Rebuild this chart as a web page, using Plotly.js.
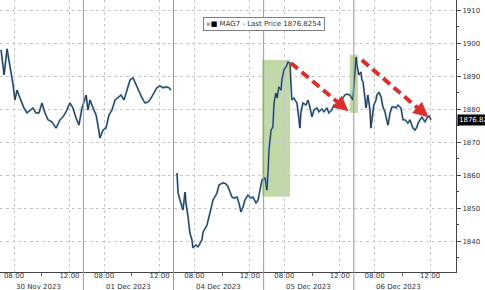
<!DOCTYPE html>
<html>
<head>
<meta charset="utf-8">
<script src="https://cdn.plot.ly/plotly-3.0.1.min.js"></script>
<style>html,body{margin:0;padding:0;background:#fff;}#chart{width:485px;height:290px;}</style>
</head>
<body>
<div id="chart"></div>
<script>
// ---- Data ----
const dayKeys   = ['2023-11-30','2023-12-01','2023-12-04','2023-12-05','2023-12-06'];
const dayLabels = ['30 Nov 2023','01 Dec 2023','04 Dec 2023','05 Dec 2023','06 Dec 2023'];
const tickTimes = ['08:00','12:00'];
const minorTickTimes = ['10:00'];
const seriesName = 'MAG7';
const lastPrice = 1876.8254;

const t30Nov = ['07:04','07:17','07:30','07:43','07:56','08:04','08:13','08:26','08:43','08:56','09:09','09:22','09:35','09:48','10:01','10:14','10:27','10:44','11:02','11:19','11:32','11:45','12:02','12:15','12:28','12:41','12:54'];
const p30Nov = [1898.0,1890.4,1898.3,1893.4,1887.4,1882.8,1885.8,1883.4,1880.4,1878.9,1879.8,1880.4,1878.9,1878.9,1881.9,1878.9,1876.8,1876.2,1874.3,1876.8,1877.7,1879.2,1881.9,1880.4,1877.4,1875.2,1880.4];

const t01Dec = ['06:42','06:50','06:59','07:12','07:25','07:33','07:42','07:55','08:08','08:21','08:34','08:47','09:00','09:13','09:26','09:39','09:52','10:05','10:18','10:31','10:44','10:57','11:10','11:23','11:36','11:48','12:01','12:15','12:28','12:41','12:49'];
const p01Dec = [1884.3,1879.8,1882.8,1880.4,1878.3,1875.2,1871.3,1873.7,1874.3,1878.3,1879.8,1882.8,1883.7,1884.3,1882.8,1885.8,1888.9,1889.5,1887.4,1885.2,1883.4,1881.9,1882.2,1883.4,1885.2,1886.5,1887.1,1886.5,1886.8,1886.5,1885.8];

const t04Dec = ['06:45','06:50','06:58','07:11','07:20','07:24','07:33','07:41','07:50','07:54','08:07','08:16','08:33','08:38','08:55','09:08','09:21','09:38','09:47','10:04','10:17','10:26','10:43','10:52','11:05','11:13','11:22','11:31','11:39','11:52','12:05','12:14','12:27','12:36','12:44','12:53'];
const p04Dec = [1860.7,1854.6,1852.5,1849.5,1854.9,1851.6,1847.4,1842.5,1840.4,1838.0,1838.9,1838.3,1840.4,1842.8,1844.9,1848.6,1852.5,1854.6,1857.1,1857.7,1857.4,1856.5,1853.4,1853.1,1853.4,1851.6,1848.9,1850.4,1852.5,1854.0,1853.1,1853.4,1851.6,1852.5,1855.5,1858.6];

const t05Dec = ['06:36','06:44','06:49','06:53','07:02','07:10','07:15','07:23','07:28','07:36','07:45','07:49','07:58','08:11','08:15','08:24','08:28','08:32','08:41','08:54','08:58','09:07','09:11','09:20','09:33','09:42','09:50','09:59','10:08','10:21','10:29','10:42','10:51','11:04','11:12','11:25','11:34','11:47','11:51','12:04','12:13','12:21','12:30','12:43','12:56'];
const p05Dec = [1859.2,1855.5,1860.7,1867.6,1873.7,1874.6,1881.9,1884.9,1883.4,1886.8,1885.8,1888.9,1891.9,1893.4,1894.3,1894.0,1888.0,1882.8,1883.4,1881.9,1879.8,1874.3,1878.9,1881.9,1881.3,1882.8,1880.7,1877.7,1879.8,1880.4,1879.2,1880.1,1879.2,1880.4,1878.9,1879.8,1881.3,1880.4,1882.2,1881.3,1883.4,1884.3,1884.6,1884.3,1882.8];

const t06Dec = ['06:40','06:44','06:52','07:01','07:05','07:10','07:18','07:23','07:27','07:31','07:40','07:44','07:53','07:57','08:06','08:10','08:19','08:28','08:36','08:45','08:54','08:58','09:07','09:15','09:24','09:33','09:41','09:54','10:03','10:11','10:20','10:24','10:33','10:42','10:46','10:55','11:03','11:08','11:16','11:25','11:29','11:38','11:47','11:55','12:04'];
const p06Dec = [1895.8,1893.4,1890.4,1891.3,1888.9,1888.3,1884.3,1880.4,1882.2,1884.3,1879.8,1874.3,1879.2,1881.3,1882.8,1884.3,1885.2,1883.7,1880.7,1879.2,1876.2,1875.2,1878.9,1880.7,1880.7,1880.4,1881.3,1880.4,1876.8,1876.8,1876.2,1875.8,1876.8,1875.2,1874.3,1873.7,1874.6,1875.8,1876.8,1877.7,1877.1,1876.2,1877.4,1878.0,1876.8254];

const dayTimes  = [t30Nov, t01Dec, t04Dec, t05Dec, t06Dec];
const dayPrices = [p30Nov, p01Dec, p04Dec, p05Dec, p06Dec];
const gapAfterDay = ['2023-12-01'];

// highlighted boxes: [start datetime, end datetime, low, high]
const boxStart = ['2023-12-04 12:53','2023-12-05 12:43'];
const boxEnd   = ['2023-12-05 08:24','2023-12-06 06:48'];
const boxLow   = [1853.5, 1878.9];
const boxHigh  = [1894.9, 1896.5];

// red dashed arrows: from -> to
const arrowFromT = ['2023-12-05 08:28','2023-12-06 07:05'];
const arrowFromP = [1894.0, 1894.9];
const arrowToT   = ['2023-12-05 12:37','2023-12-06 11:53'];
const arrowToP   = [1879.4, 1877.6];

// ---- Session axis: hours of trading since 30 Nov open (06:30-13:00) ----
const OPEN = 6.5, LEN = 6.5;
function hm(s){const [h,m]=s.split(':').map(Number);return h+m/60;}
function sx(dayIdx, time){return dayIdx*LEN + (hm(time)-OPEN);}
function dx(dt){const [d,t]=dt.split(' ');return sx(dayKeys.indexOf(d), t);}

const xs=[], ys=[];
dayKeys.forEach((d,i)=>{
  dayTimes[i].forEach((t,j)=>{xs.push(sx(i,t)); ys.push(dayPrices[i][j]);});
  if(gapAfterDay.includes(d)){xs.push(null); ys.push(null);}
});

const tickvals=[], ticktext=[], minorvals=[];
dayKeys.forEach((d,i)=>{
  tickTimes.forEach(t=>{tickvals.push(sx(i,t)); ticktext.push(t);});
  minorTickTimes.forEach(t=>minorvals.push(sx(i,t)));
});

const xRange=[0.49, 33.37];
const shapes=[];
// day separators
for(let i=1;i<dayKeys.length;i++){
  shapes.push({type:'line',xref:'x',yref:'paper',x0:i*LEN,x1:i*LEN,y0:-0.075,y1:1,line:{color:'#9a9a9a',width:1},layer:'above'});
}
// green boxes
boxStart.forEach((s,i)=>{
  shapes.push({type:'rect',xref:'x',yref:'y',x0:dx(s),x1:dx(boxEnd[i]),y0:boxLow[i],y1:boxHigh[i],fillcolor:'rgba(125,175,75,0.48)',line:{width:0},layer:'below'});
});
const annotations=[];
const RED='#d9302c';
arrowFromT.forEach((s,i)=>{
  const x0=dx(s), y0=arrowFromP[i], x1=dx(arrowToT[i]), y1=arrowToP[i];
  const f=0.88;
  const xm=x0+(x1-x0)*f, ym=y0+(y1-y0)*f;
  shapes.push({type:'line',xref:'x',yref:'y',x0:x0,y0:y0,x1:xm,y1:ym,line:{color:RED,width:4,dash:'9px,5px'},layer:'above'});
  annotations.push({xref:'x',yref:'y',axref:'x',ayref:'y',x:x1,y:y1,ax:x0+(x1-x0)*0.84,ay:y0+(y1-y0)*0.84,text:'',showarrow:true,arrowhead:2,arrowsize:0.75,arrowwidth:4,arrowcolor:RED,standoff:0,startstandoff:0});
});
// date labels
dayLabels.forEach((lab,i)=>{
  const x=i*LEN+LEN/2;
  if(x<xRange[0]||x>xRange[1]) return;
  annotations.push({xref:'x',yref:'paper',x:x,y:0,yanchor:'top',yshift:-9.5,text:lab,showarrow:false,borderpad:0,font:{family:'DejaVu Sans',size:7,color:'#333'}});
});
// legend box
annotations.push({xref:'paper',yref:'paper',x:0.58,y:0.912,xanchor:'center',yanchor:'middle',
  text:'<span style="color:#b0b0b0">▪</span><span style="color:#000">■</span> '+seriesName+' - Last Price '+lastPrice.toFixed(4),
  showarrow:false,bgcolor:'#fff',bordercolor:'#808080',borderwidth:1,borderpad:2,font:{family:'DejaVu Sans',size:7,color:'#333'}});
// last price tag
annotations.push({xref:'paper',yref:'y',x:1,y:lastPrice,xanchor:'left',yanchor:'middle',xshift:1,text:lastPrice.toFixed(4),showarrow:false,bgcolor:'#000',borderpad:1,font:{family:'DejaVu Sans',size:7,color:'#fff'}});

const traces=[
  {type:'scatter',mode:'lines',x:xs,y:ys,line:{color:'#6d9bc8',width:2},hoverinfo:'skip',connectgaps:false},
  {type:'scatter',mode:'lines',x:xs,y:ys,line:{color:'#1e2a36',width:0.9},connectgaps:false}
];

const layout={
  width:485,height:290,margin:{l:0,r:29,t:0,b:18},
  paper_bgcolor:'#fff',plot_bgcolor:'#fff',showlegend:false,
  font:{family:'DejaVu Sans',size:7,color:'#333'},
  xaxis:{type:'linear',range:xRange,tickmode:'array',tickvals:tickvals,ticktext:ticktext,ticks:'',ticklabelstandoff:-3,
    showgrid:true,gridcolor:'#c8c8c8',griddash:'dot',gridwidth:1,zeroline:false,
    showline:true,linecolor:'#444',linewidth:1,tickfont:{size:7,color:'#333'},
    minor:{tickmode:'array',tickvals:minorvals,ticks:'outside',ticklen:3,tickcolor:'#666',showgrid:false}},
  yaxis:{side:'right',range:[1830.7,1913.1],dtick:10,tick0:1840,ticks:'outside',ticklen:4,tickcolor:'#444',
    showgrid:true,gridcolor:'#c8c8c8',griddash:'dot',gridwidth:1,zeroline:false,
    showline:true,linecolor:'#444',linewidth:1,tickfont:{size:7,color:'#333'},
    minor:{dtick:5,tick0:1835,ticks:'outside',ticklen:2,tickcolor:'#444',showgrid:false}},
  shapes:shapes,annotations:annotations
};
Plotly.newPlot('chart',traces,layout,{staticPlot:true,displayModeBar:false});
</script>
</body>
</html>
